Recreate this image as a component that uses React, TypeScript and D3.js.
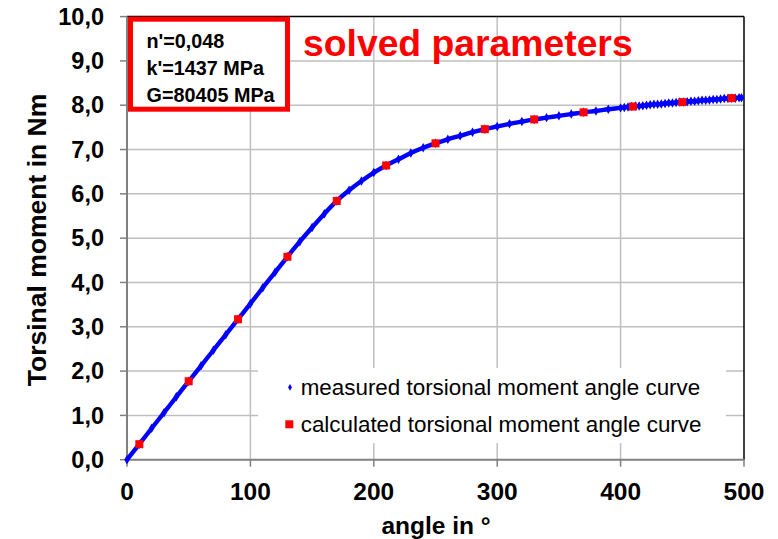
import React from "react";
import * as d3 from "d3";

// Measured torsional moment (Nm) against twist angle (°)
const measuredAngle = [
  0, 10, 20, 30, 40, 50, 60, 70, 80, 90, 100, 110, 120, 130, 140, 150, 160, 170, 180, 190,
  200, 210, 220, 230, 240, 250, 260, 270, 280, 290, 300, 310, 320, 330, 340, 350, 360, 370,
  380, 390, 400, 403, 406, 409, 412, 415, 418, 421, 424, 427, 430, 433, 436, 439, 442, 445,
  448, 451, 454, 457, 460, 463, 466, 469, 472, 475, 478, 481, 484, 487, 490, 493, 496, 498,
];
const measuredMoment = [
  0.0, 0.35, 0.71, 1.06, 1.42, 1.77, 2.12, 2.47, 2.82, 3.17, 3.52, 3.88, 4.23, 4.58, 4.92,
  5.24, 5.55, 5.84, 6.08, 6.29, 6.48, 6.64, 6.78, 6.92, 7.04, 7.14, 7.23, 7.31, 7.39, 7.46,
  7.52, 7.58, 7.63, 7.68, 7.72, 7.76, 7.8, 7.84, 7.87, 7.91, 7.94, 7.95, 7.96, 7.97, 7.98,
  7.98, 7.99, 8.0, 8.01, 8.02, 8.02, 8.03, 8.04, 8.05, 8.05, 8.06, 8.07, 8.07, 8.08, 8.09,
  8.09, 8.1, 8.11, 8.11, 8.12, 8.13, 8.13, 8.14, 8.15, 8.15, 8.16, 8.16, 8.17, 8.17,
];

// Calculated curve from the fitted parameters
const calcAngle = [10, 50, 90, 130, 170, 210, 250, 290, 330, 370, 410, 450, 490];
const calcMoment = [0.35, 1.77, 3.17, 4.58, 5.84, 6.64, 7.14, 7.46, 7.68, 7.84, 7.97, 8.07, 8.16];

const xTicks = [0, 100, 200, 300, 400, 500];
const yTicks = [0, 1, 2, 3, 4, 5, 6, 7, 8, 9, 10];

const paramLines = ["n'=0,048", "k'=1437 MPa", "G=80405 MPa"];
const legendLabels = [
  "measured torsional moment angle curve",
  "calculated torsional moment angle curve",
];

const W = 778;
const H = 539;
const FONT = "'Liberation Sans', Arial, sans-serif";

export default function App() {
  const x = d3.scaleLinear().domain([0, 500]).range([127, 744]);
  const y = d3.scaleLinear().domain([0, 10]).range([459.7, 16.6]);

  const measured = measuredAngle.map((a, i) => [a, measuredMoment[i]] as [number, number]);
  const calc = calcAngle.map((a, i) => [a, calcMoment[i]] as [number, number]);

  const line = d3
    .line<[number, number]>()
    .x((d) => x(d[0]))
    .y((d) => y(d[1]))
    .curve(d3.curveMonotoneX);

  const diamond = d3.symbol().type(d3.symbolDiamond).size(26)() as string;
  const legendDiamond = d3.symbol().type(d3.symbolDiamond).size(13)() as string;

  const [x0, x1] = x.range();
  const [y0, y1] = y.range();

  return (
    <svg
      width={W}
      height={H}
      style={{ position: "absolute", left: 0, top: 0, background: "#fff" }}
      fontFamily={FONT}
    >
      <rect x={0} y={0} width={W} height={H} fill="#fff" />

      {/* grid */}
      {yTicks.slice(1, -1).map((t) => (
        <line key={"gy" + t} x1={x0} x2={x1} y1={y(t)} y2={y(t)} stroke="#bfbfbf" strokeWidth={1.5} />
      ))}
      {xTicks.slice(1, -1).map((t) => (
        <line key={"gx" + t} x1={x(t)} x2={x(t)} y1={y1} y2={y0} stroke="#bfbfbf" strokeWidth={1.5} />
      ))}

      {/* plot frame */}
      <line x1={x0} x2={x1} y1={y1} y2={y1} stroke="#000" strokeWidth={1.5} />
      <line x1={x1} x2={x1} y1={y1} y2={y0} stroke="#000" strokeWidth={1.5} />

      {/* axes */}
      <line x1={x0} x2={x1} y1={y0} y2={y0} stroke="#808080" strokeWidth={2} />
      <line x1={x0} x2={x0} y1={y1} y2={y0} stroke="#808080" strokeWidth={2} />
      {yTicks.map((t) => (
        <g key={"ty" + t}>
          <line x1={x0 - 7} x2={x0} y1={y(t)} y2={y(t)} stroke="#808080" strokeWidth={1.5} />
          <text
            x={104}
            y={y(t) + 8.2}
            textAnchor="end"
            fontSize={23.5}
            fontWeight="bold"
            fill="#000"
          >
            {t.toFixed(1).replace(".", ",")}
          </text>
        </g>
      ))}
      {xTicks.map((t) => (
        <g key={"tx" + t}>
          <line x1={x(t)} x2={x(t)} y1={y0} y2={y0 + 7} stroke="#808080" strokeWidth={1.5} />
          <text x={x(t)} y={499.5} textAnchor="middle" fontSize={24.5} fontWeight="bold" fill="#000">
            {t}
          </text>
        </g>
      ))}

      {/* axis titles */}
      <text
        transform={`translate(45.5,240) rotate(-90)`}
        textAnchor="middle"
        fontSize={26.5}
        fontWeight="bold"
        fill="#000"
      >
        Torsinal moment in Nm
      </text>
      <text x={436} y={534} textAnchor="middle" fontSize={24.5} fontWeight="bold" fill="#000">
        angle in °
      </text>

      {/* measured curve */}
      <path d={line(measured) ?? ""} fill="none" stroke="#0000ff" strokeWidth={4.4} />
      {measured.map((d, i) => (
        <path key={"m" + i} d={diamond} transform={`translate(${x(d[0])},${y(d[1])})`} fill="#0000ff" />
      ))}

      {/* calculated points */}
      {calc.map((d, i) => (
        <rect key={"c" + i} x={x(d[0]) - 4} y={y(d[1]) - 4} width={8} height={8} fill="#ff0000" />
      ))}

      {/* parameter box */}
      <rect x={130.5} y={19.2} width={157} height={90} fill="#fff" stroke="#ff0000" strokeWidth={5} />
      {paramLines.map((s, i) => (
        <text key={s} x={146.5} y={48.3 + i * 26.7} fontSize={19.8} fontWeight="bold" fill="#000">
          {s}
        </text>
      ))}

      <text x={303} y={56} fontSize={37.3} fontWeight="bold" fill="#ff0000">
        solved parameters
      </text>

      {/* legend */}
      <rect x={258} y={368} width={468} height={75} fill="#fff" />
      <path d={legendDiamond} transform="translate(290,387.3)" fill="#0000ff" />
      <rect x={285.3} y={420.3} width={8} height={8} fill="#ff0000" />
      {legendLabels.map((s, i) => (
        <text key={s} x={300.7} y={395 + i * 36.7} fontSize={22.4} fill="#000">
          {s}
        </text>
      ))}
    </svg>
  );
}
